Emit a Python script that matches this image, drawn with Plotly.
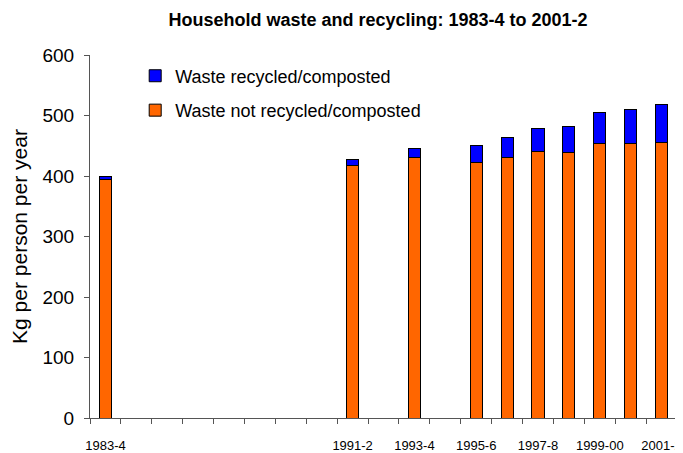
import plotly.graph_objects as go

categories = ["1983-4", "1984-5", "1985-6", "1986-7", "1987-8", "1988-9", "1989-90",
              "1990-1", "1991-2", "1992-3", "1993-4", "1994-5", "1995-6", "1996-7",
              "1997-8", "1998-9", "1999-00", "2000-1", "2001-2"]
not_recycled = [395, None, None, None, None, None, None, None, 417, None, 431, None,
                422, 430, 440, 439, 454, 454, 455]
recycled = [4, None, None, None, None, None, None, None, 11, None, 15, None,
            29, 34, 39, 43, 51, 56, 63]
labelled = ["1983-4", "1991-2", "1993-4", "1995-6", "1997-8", "1999-00", "2001-2"]
tick_text = [c if c in labelled else "" for c in categories]

fig = go.Figure()
fig.add_trace(go.Bar(x=categories, y=not_recycled, name="Waste not recycled/composted",
                     legendgroup="b", legendrank=2,
                     marker=dict(color="#FF6600", line=dict(color="black", width=1))))
fig.add_trace(go.Bar(x=categories, y=recycled, name="Waste recycled/composted",
                     legendgroup="a", legendrank=1,
                     marker=dict(color="#0000FF", line=dict(color="black", width=1))))

# page body has an 8px default margin, so the figure is 8px smaller each way
W, H = 675, 445
fig.update_layout(
    width=W, height=H,
    barmode="stack", bargap=0.61,
    plot_bgcolor="white", paper_bgcolor="white",
    margin=dict(l=82, r=6, t=47, b=35, autoexpand=False),
    font=dict(family="Liberation Sans, Arial, sans-serif", color="black"),
    title=dict(text="<b>Household waste and recycling: 1983-4 to 2001-2</b>",
               x=370 / W, xref="container", xanchor="center",
               y=1 - 12 / H, yref="container", yanchor="middle",
               font=dict(size=18)),
    legend=dict(x=0.077, y=0.993, xanchor="left", yanchor="top",
                traceorder="grouped", font=dict(size=18),
                bgcolor="rgba(0,0,0,0)", tracegroupgap=8),
    showlegend=True,
)
fig.update_xaxes(type="category", categoryorder="array", categoryarray=categories,
                 tickmode="array", tickvals=categories, ticktext=tick_text,
                 tickson="boundaries", ticks="outside", ticklen=5, tickcolor="#555",
                 tickangle=0, automargin=False, ticklabelstandoff=15,
                 showline=True, linecolor="#555", showgrid=False,
                 tickfont=dict(size=13), range=[-0.5, 18.5])
fig.update_yaxes(range=[0, 600], dtick=100, ticks="outside", ticklen=5, tickcolor="#555",
                 showline=True, linecolor="#555", showgrid=False, zeroline=False,
                 automargin=False, tickfont=dict(size=19), ticklabelstandoff=6,
                 title=dict(text="Kg per person per year", font=dict(size=21), standoff=10))

fig.write_html("out.html")
